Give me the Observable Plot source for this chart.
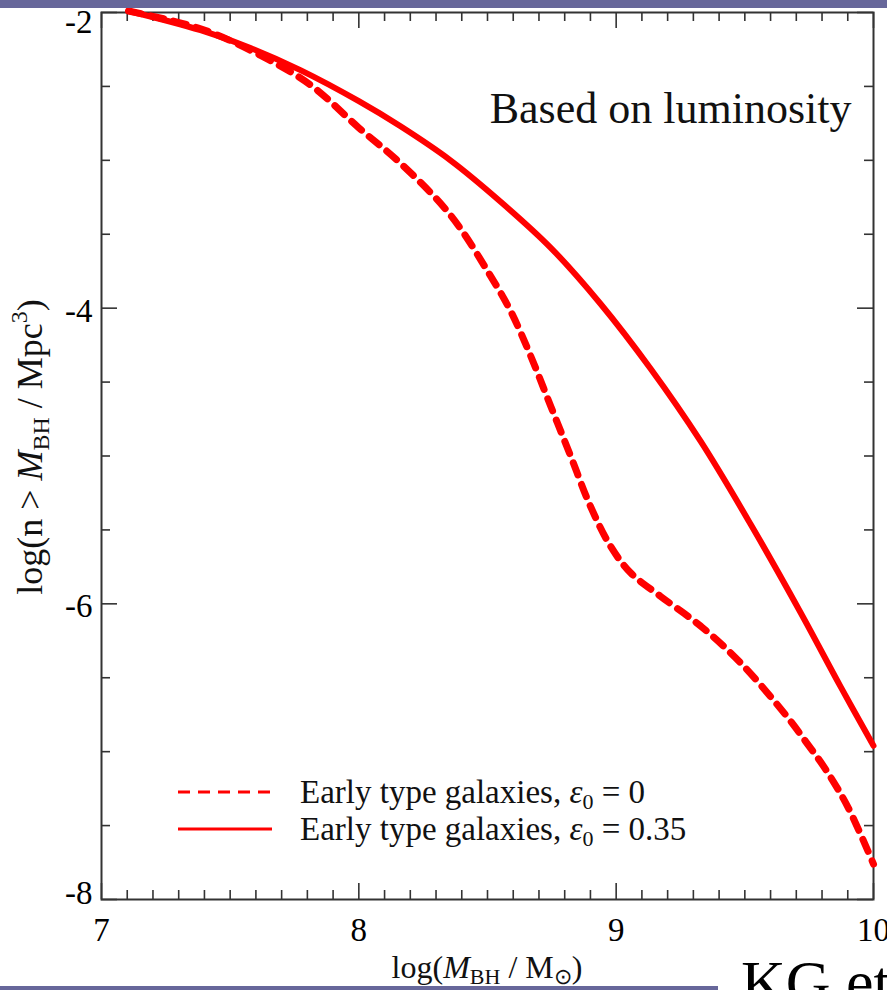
<!DOCTYPE html>
<html>
<head>
<meta charset="utf-8">
<script src="https://cdn.jsdelivr.net/npm/d3@7"></script>
<script src="https://cdn.jsdelivr.net/npm/@observablehq/plot@0.6"></script>
<style>
  html, body { margin: 0; padding: 0; background: #fff; overflow: hidden; }
  #wrap { position: relative; width: 887px; height: 990px; overflow: hidden; }
  #topbar { position: absolute; left: 0; top: 0; width: 887px; height: 8px; background: #67679a; }
  #botbar { position: absolute; left: 0; top: 986px; width: 718px; height: 4px; background: #67679a; }
  #kg { position: absolute; left: 741px; top: 951px; font-family: "Liberation Serif", serif; font-size: 62px; line-height: 62px; color: #000; white-space: nowrap; }
</style>
</head>
<body>
<div id="wrap">
  <div id="chart"></div>
  <div id="topbar"></div>
  <div id="botbar"></div>
  <div id="kg">KG et al.</div>
</div>
<script>
// Series: log(M_BH/Msun) vs log(n > M_BH / Mpc^3)
const solidX = [7.105, 7.385, 7.579, 7.773, 8.000, 8.162, 8.356, 8.551, 8.745, 8.939, 9.134, 9.328, 9.522, 9.717, 9.872, 10.00];
const solidY = [-1.99, -2.12, -2.24, -2.39, -2.60, -2.77, -3.00, -3.28, -3.59, -3.97, -4.41, -4.90, -5.46, -6.06, -6.56, -6.96];

const dashX = [7.105, 7.385, 7.618, 7.812, 8.000, 8.162, 8.356, 8.511, 8.590, 8.667, 8.745, 8.823, 8.900, 8.978, 9.056, 9.173, 9.328, 9.484, 9.658, 9.736, 9.814, 9.899, 10.00];
const dashY = [-1.99, -2.11, -2.29, -2.49, -2.78, -3.02, -3.37, -3.78, -4.02, -4.32, -4.66, -5.00, -5.34, -5.61, -5.79, -5.95, -6.15, -6.40, -6.75, -6.93, -7.12, -7.37, -7.76];

// Ticks
const xMajor = [7, 8, 9, 10];
const xMinor = [7.1,7.2,7.3,7.4,7.5,7.6,7.7,7.8,7.9,8.1,8.2,8.3,8.4,8.5,8.6,8.7,8.8,8.9,9.1,9.2,9.3,9.4,9.5,9.6,9.7,9.8,9.9];
const yMajor = [-2, -4, -6, -8];
const yMinor = [-2.5, -3, -3.5, -4.5, -5, -5.5, -6.5, -7, -7.5];

const solid = solidX.map((x, i) => ({x, y: solidY[i]}));
const dashed = dashX.map((x, i) => ({x, y: dashY[i]}));

const W = 887, H = 990;
const mT = 12, mB = 91, mL = 101, mR = 14;
const pw = W - mL - mR, ph = H - mT - mB;
const majLen = 16, minLen = 9;
const tickColor = "#333";
const yLabelOpts = {tickSize: 0, tickPadding: 9, fontSize: 33, tickFormat: d => String(d), label: null};

const plot = Plot.plot({
  width: W, height: H,
  marginTop: mT, marginBottom: mB, marginLeft: mL, marginRight: mR,
  style: {fontFamily: "'Liberation Serif', 'Times New Roman', serif", background: "white", overflow: "visible"},
  x: {domain: [7, 10]},
  y: {domain: [-8, -2]},
  marks: [
    // inward ticks
    Plot.tickX(xMajor, {x: d => d, insetTop: ph - majLen, stroke: tickColor, strokeWidth: 1.6}),
    Plot.tickX(xMinor, {x: d => d, insetTop: ph - minLen, stroke: tickColor, strokeWidth: 1.6}),
    Plot.tickX(xMajor, {x: d => d, insetBottom: ph - majLen, stroke: tickColor, strokeWidth: 1.6}),
    Plot.tickX(xMinor, {x: d => d, insetBottom: ph - minLen, stroke: tickColor, strokeWidth: 1.6}),
    Plot.tickY(yMajor, {y: d => d, insetRight: pw - majLen, stroke: tickColor, strokeWidth: 1.6}),
    Plot.tickY(yMinor, {y: d => d, insetRight: pw - minLen, stroke: tickColor, strokeWidth: 1.6}),
    Plot.tickY(yMajor, {y: d => d, insetLeft: pw - majLen, stroke: tickColor, strokeWidth: 1.6}),
    Plot.tickY(yMinor, {y: d => d, insetLeft: pw - minLen, stroke: tickColor, strokeWidth: 1.6}),
    Plot.axisX({ticks: xMajor, tickSize: 0, tickPadding: 18, fontSize: 33, tickFormat: d => String(d), label: null}),
    Plot.axisY({...yLabelOpts, ticks: [yMajor[0]], dy: 10}),
    Plot.axisY({...yLabelOpts, ticks: [yMajor[1], yMajor[2]], dy: 3}),
    Plot.axisY({...yLabelOpts, ticks: [yMajor[3]], dy: -6}),
    Plot.frame({stroke: tickColor, strokeWidth: 2}),
    Plot.line(dashed, {x: "x", y: "y", stroke: "#ff0000", strokeWidth: 7, strokeDasharray: "13,10", curve: "catmull-rom"}),
    Plot.line(solid, {x: "x", y: "y", stroke: "#ff0000", strokeWidth: 6, curve: "catmull-rom"}),
    Plot.text(["Based on luminosity"], {frameAnchor: "top-right", dx: -22, dy: 79, textAnchor: "end", fontSize: 44, fill: "#111"})
  ]
});
document.getElementById("chart").appendChild(plot);

// Titles and legend (rich text)
const svg = d3.select(plot);
const FF = "'Liberation Serif', 'Times New Roman', serif";

function richTitle(g, parts) {
  parts.forEach(p => {
    const t = g.append("tspan").text(p.t);
    if (p.i) t.attr("font-style", "italic");
    if (p.s) t.attr("font-size", p.s);
    if (p.dy) t.attr("dy", p.dy);
  });
}

// X title
const xt = svg.append("text").attr("x", 487).attr("y", 978).attr("text-anchor", "middle")
  .attr("font-family", FF).attr("font-size", 32).attr("fill", "#111");
richTitle(xt, [
  {t: "log("}, {t: "M", i: true}, {t: "BH", s: 22, dy: 6}, {t: " / M", dy: -6},
  {t: "⊙", s: 22, dy: 6}, {t: ")", dy: -6}
]);

// Y title
const yt = svg.append("text").attr("transform", "translate(42,447) rotate(-90)").attr("text-anchor", "middle")
  .attr("font-family", FF).attr("font-size", 36).attr("fill", "#111");
richTitle(yt, [
  {t: "log(n > "}, {t: "M", i: true}, {t: "BH", s: 24, dy: 7}, {t: " / Mpc", dy: -7},
  {t: "3", s: 24, dy: -15}, {t: ")", dy: 15}
]);

// Legend
const leg = svg.append("g").attr("font-family", FF).attr("font-size", 33).attr("fill", "#111").attr("text-anchor", "start");
leg.append("line").attr("x1", 178).attr("x2", 272).attr("y1", 792).attr("y2", 792)
  .attr("stroke", "#ff0000").attr("stroke-width", 3).attr("stroke-dasharray", "12,8");
leg.append("line").attr("x1", 178).attr("x2", 272).attr("y1", 829).attr("y2", 829)
  .attr("stroke", "#ff0000").attr("stroke-width", 3);
const legendItems = ["0", "0.35"];
legendItems.forEach((v, i) => {
  const t = leg.append("text").attr("x", 300).attr("y", 803 + i * 37).attr("text-anchor", "start");
  richTitle(t, [
    {t: "Early type galaxies, "}, {t: "ε", i: true}, {t: "0", s: 22, dy: 6}, {t: " = " + v, dy: -6}
  ]);
});
</script>
</body>
</html>
